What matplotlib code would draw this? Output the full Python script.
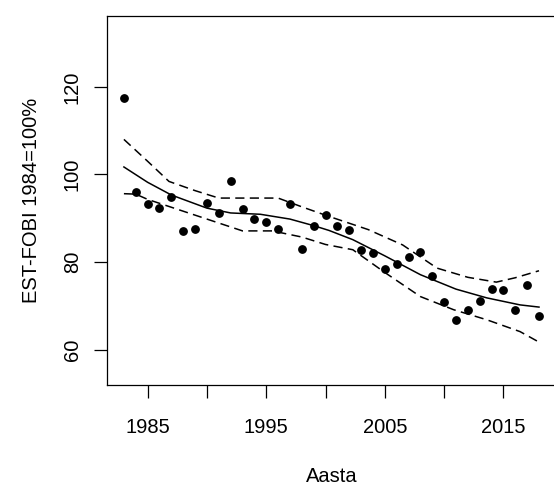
import matplotlib
matplotlib.use('Agg')
import matplotlib.pyplot as plt

plt.rcParams['font.family'] = ['Liberation Sans', 'DejaVu Sans']

# Observed index values (EST-FOBI, 1984 = 100%)
years = list(range(1983, 2019))
index = [117.4, 96.0, 93.2, 92.3, 94.9, 87.1, 87.5, 93.4, 91.3, 98.5,
         92.2, 89.8, 89.1, 87.5, 93.2, 83.0, 88.2, 90.8, 88.3, 87.4,
         82.8, 82.1, 78.5, 79.5, 81.1, 82.2, 76.8, 70.9, 66.8, 69.0,
         71.1, 73.9, 73.5, 69.0, 74.7, 67.6]

# Smoothed trend and its confidence band
fit_x = [1983, 1985, 1987, 1990, 1992, 1994.5, 1997, 1999, 2000.3, 2002.3,
         2005, 2008, 2011, 2013.6, 2016.4, 2018]
fit_y = [101.7, 98.2, 95.3, 92.3, 91.2, 90.9, 89.8, 88.3, 87.2, 85.1,
         81.4, 77.1, 73.8, 71.8, 70.2, 69.7]

upper_x = [1983, 1985, 1986.8, 1989, 1991, 1996, 1998, 2000.3, 2003.6,
           2006.5, 2009.4, 2012, 2014.4, 2016, 2018]
upper_y = [108.0, 103.0, 98.4, 96.3, 94.6, 94.6, 92.6, 90.4, 87.4,
           83.9, 78.6, 76.5, 75.4, 76.4, 78.0]

lower_x = [1983, 1984, 1985, 1988, 1993, 1995.5, 1998, 2000, 2002.3,
           2005, 2008, 2010.8, 2013.6, 2016.4, 2018]
lower_y = [95.6, 95.5, 94.3, 91.6, 87.1, 87.1, 85.7, 84.0, 82.8,
           77.6, 72.1, 69.1, 66.8, 64.1, 61.7]

xticks = [1985, 1990, 1995, 2000, 2005, 2010, 2015]
xtick_labels = ['1985', '', '1995', '', '2005', '', '2015']
yticks = [60, 80, 100, 120]

FS = 14.5

fig = plt.figure(figsize=(5.54, 4.86), dpi=100)
# R-style plot box; right edge falls just outside the image
ax = fig.add_axes([0.1937, 0.2078, 0.8092, 0.7603])

ax.plot(years, index, 'o', color='black', markersize=5.3, zorder=3)
ax.plot(fit_x, fit_y, '-', color='black', linewidth=1.1)
ax.plot(upper_x, upper_y, color='black', linewidth=1.1, dashes=(6, 3.5))
ax.plot(lower_x, lower_y, color='black', linewidth=1.1, dashes=(6, 3.5))

ax.set_xlim(1981.6, 2019.4)
ax.set_ylim(51.9, 136.3)
ax.set_xticks(xticks)
ax.set_xticklabels(xtick_labels)
ax.set_yticks(yticks)
ax.set_yticklabels([str(v) for v in yticks], rotation=90, va='center')

ax.tick_params(axis='both', direction='out', length=9.4, width=0.9,
               labelsize=FS, color='black')
ax.tick_params(axis='x', pad=14)
ax.tick_params(axis='y', pad=9)
for s in ax.spines.values():
    s.set_linewidth(0.9)

ax.set_xlabel('Aasta', fontsize=FS, labelpad=22)
ax.set_ylabel('EST-FOBI 1984=100%', fontsize=FS, labelpad=16)

fig.savefig('out.png', dpi=100)
